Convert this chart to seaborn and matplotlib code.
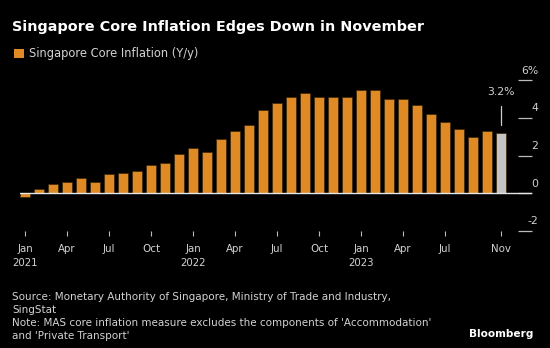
import matplotlib
matplotlib.use("Agg")
import matplotlib.pyplot as plt
import matplotlib.transforms as mtransforms
from matplotlib.patches import Patch
import seaborn as sns
import pandas as pd

months = pd.date_range("2021-01-01", "2023-11-01", freq="MS").strftime("%Y-%m").tolist()
core_inflation = [-0.2, 0.2, 0.5, 0.6, 0.8, 0.6, 1.0, 1.1, 1.2, 1.5, 1.6, 2.1,
                  2.4, 2.2, 2.9, 3.3, 3.6, 4.4, 4.8, 5.1, 5.3, 5.1, 5.1, 5.1,
                  5.5, 5.5, 5.0, 5.0, 4.7, 4.2, 3.8, 3.4, 3.0, 3.3, 3.2]
tick_positions = [0, 3, 6, 9, 12, 15, 18, 21, 24, 27, 30, 34]
tick_labels = ["Jan\n2021", "Apr", "Jul", "Oct", "Jan\n2022", "Apr", "Jul", "Oct",
               "Jan\n2023", "Apr", "Jul", "Nov"]
y_ticks = [-2, 0, 2, 4, 6]
y_labels = ["-2", "0", "2", "4", "6%"]

ORANGE = "#E08A26"
GREY = "#C4C4C4"
TXT = "#D2D2D2"

sns.set_theme(style="dark")
plt.rcParams["font.family"] = ["DejaVu Sans"]

fig = plt.figure(figsize=(5.5, 3.48), dpi=100, facecolor="black")
ax = fig.add_axes([20 / 550, (348 - 236) / 348, (532 - 20) / 550, 0.5])
ax.set_facecolor("black")

colors = [ORANGE] * (len(months) - 1) + [GREY]
df = pd.DataFrame({"month": months, "value": core_inflation})
sns.barplot(data=df, x="month", y="value", hue="month", palette=colors,
            legend=False, width=0.7, edgecolor="#3a2608", linewidth=0.5, ax=ax,
            saturation=1)

ax.set_xlim(-0.36, 36.2)
ax.set_ylim(-2.27, 6.97)
ax.axhline(0, color="#E6E6E6", lw=1.0, zorder=3)

for s in ax.spines.values():
    s.set_visible(False)
ax.grid(False)
ax.set_xlabel("")
ax.set_ylabel("")

ax.set_xticks(tick_positions)
ax.set_xticklabels(tick_labels, color=TXT, fontsize=7.4, linespacing=1.5)
ax.tick_params(axis="x", direction="in", length=3.6, width=0.8, color="#BBBBBB",
               pad=6, bottom=True)

ax.yaxis.tick_right()
ax.set_yticks(y_ticks)
ax.set_yticklabels(y_labels, color=TXT, fontsize=7.8, ha="right")
ax.tick_params(axis="y", direction="in", length=10, width=0.9, color="#BBBBBB",
               pad=4.5, right=True)
offset = mtransforms.ScaledTranslation(0, 0.105, fig.dpi_scale_trans)
for lab in ax.get_yticklabels():
    lab.set_transform(lab.get_transform() + offset)

# annotation for latest value
last_i = len(core_inflation) - 1
last_v = core_inflation[-1]
ax.plot([last_i, last_i], [last_v + 0.42, last_v + 1.43], color="#CCCCCC", lw=0.9)
ax.text(last_i, last_v + 2.2, f"{last_v:.1f}%", color=TXT, fontsize=7.8,
        ha="center", va="center")

fig.text(12 / 550, 1 - 27 / 348, "Singapore Core Inflation Edges Down in November",
         color="white", fontsize=10.4, fontweight="bold", va="center", ha="left")

fig.legend(handles=[Patch(facecolor=ORANGE, edgecolor="none")],
           labels=["Singapore Core Inflation (Y/y)"], loc="center left",
           bbox_to_anchor=(4 / 550, 1 - 54 / 348), frameon=False,
           handlelength=0.8, handleheight=0.8, handletextpad=0.5,
           labelcolor=TXT, fontsize=8.3)

notes = ["Source: Monetary Authority of Singapore, Ministry of Trade and Industry,",
         "SingStat",
         "Note: MAS core inflation measure excludes the components of 'Accommodation'",
         "and 'Private Transport'"]
for i, line in enumerate(notes):
    fig.text(12 / 550, 1 - (297 + 13 * i) / 348, line, color=TXT, fontsize=7.45,
             va="center", ha="left")

fig.text(533 / 550, 1 - 334 / 348, "Bloomberg", color="white", fontsize=7.6,
         fontweight="bold", va="center", ha="right")

fig.savefig("out.png", dpi=100, facecolor="black")
